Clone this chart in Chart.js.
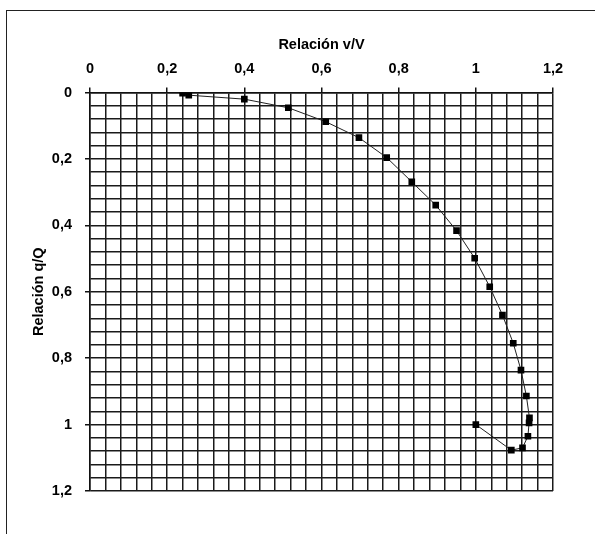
<!DOCTYPE html>
<html>
<head>
<meta charset="utf-8">
<script src="https://cdn.jsdelivr.net/npm/chart.js@4"></script>
<style>
body{margin:0;background:#fff;}
#wrap{position:relative;width:595px;height:534px;overflow:hidden;}
#frame{position:absolute;left:6px;top:10px;right:-5px;bottom:-5px;border-top:1px solid #222;border-left:1px solid #222;}
canvas{position:absolute;left:0;top:0;}
</style>
</head>
<body>
<div id="wrap">
<div id="frame"></div>
<canvas id="myChart" width="595" height="534"></canvas>
</div>
<script>
// relación v/V (eje horizontal) y relación q/Q (eje vertical)
const vV = [0.240, 0.256, 0.400, 0.514, 0.611, 0.697, 0.769, 0.834, 0.896, 0.950, 0.997,
            1.036, 1.069, 1.097, 1.117, 1.131, 1.139, 1.138, 1.135, 1.121, 1.092, 1.000];
const qQ = [0.002, 0.008, 0.020, 0.046, 0.088, 0.136, 0.196, 0.269, 0.339, 0.416, 0.499,
            0.585, 0.670, 0.755, 0.836, 0.914, 0.980, 0.995, 1.035, 1.070, 1.077, 1.000];
const AXIS_MIN = 0, AXIS_MAX = 1.2, GRID_STEP = 0.04, LABEL_STEP = 0.2;

const FONT = {family: "'Liberation Sans', Arial, sans-serif", size: 14.5, weight: 'bold'};

function isMajor(v) {
    return Math.round(v * 100) % Math.round(LABEL_STEP * 100) === 0;
}
function fmt(v) {
    if (!isMajor(v)) return '';
    return String(Math.round(v * 100) / 100).replace('.', ',');
}
function tickCol(ctx) {
    return ctx.tick && isMajor(ctx.tick.value) ? '#111' : 'rgba(0,0,0,0)';
}

const points = vV.map((x, i) => ({x: x, y: qQ[i]}));

const CHART = document.getElementById("myChart");
var myChart = new Chart(CHART, {
    type: 'scatter',
    data: {
        datasets: [{
            data: points,
            showLine: true,
            borderColor: '#222',
            borderWidth: 1,
            backgroundColor: '#000',
            pointStyle: 'rect',
            pointRadius: 4.7,
            pointBorderWidth: 0
        }]
    },
    options: {
        responsive: false,
        animation: false,
        layout: {padding: {left: 24, top: 31, right: 42, bottom: 43}},
        plugins: {legend: {display: false}, tooltip: {enabled: false}},
        scales: {
            x: {
                type: 'linear',
                position: 'top',
                min: AXIS_MIN, max: AXIS_MAX,
                afterFit: s => { s.height = 61.5; },
                ticks: {stepSize: GRID_STEP, autoSkip: false, maxRotation: 0, padding: 10,
                        color: '#000', font: FONT, callback: fmt},
                grid: {color: '#1a1a1a', lineWidth: 1.5, tickLength: 5, tickColor: tickCol},
                border: {color: '#111', width: 1.5},
                title: {display: true, text: 'Relación v/V', color: '#000', font: FONT,
                        padding: {top: 5, bottom: 0}}
            },
            y: {
                type: 'linear',
                reverse: true,
                min: AXIS_MIN, max: AXIS_MAX,
                afterFit: s => { s.width = 66; },
                ticks: {stepSize: GRID_STEP, autoSkip: false, padding: 13,
                        color: '#000', font: FONT, callback: fmt},
                grid: {color: '#1a1a1a', lineWidth: 1.5, tickLength: 5, tickColor: tickCol},
                border: {color: '#111', width: 1.5},
                title: {display: true, text: 'Relación q/Q', color: '#000', font: FONT,
                        padding: {top: 6, bottom: 0}}
            }
        }
    }
});
</script>
</body>
</html>
